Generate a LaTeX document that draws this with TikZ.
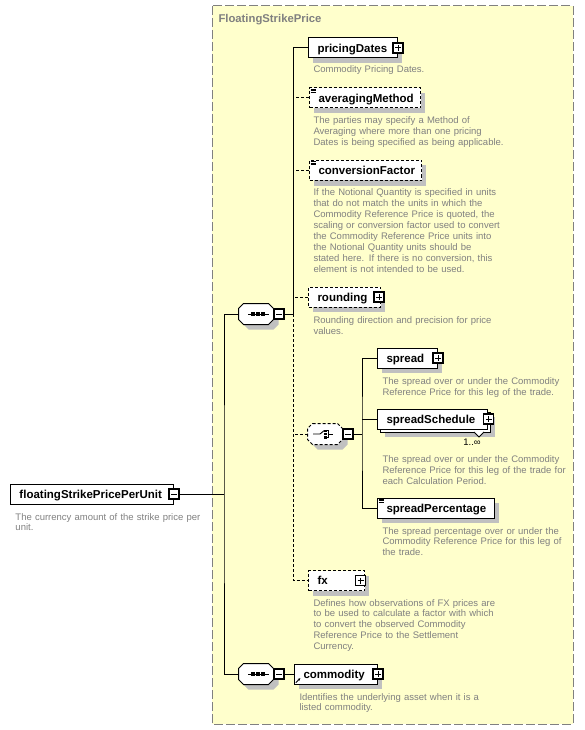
\documentclass[tikz,border=0pt]{standalone}
\usepackage{fontspec}
\setmainfont{Liberation Sans}
\usetikzlibrary{arrows.meta}
\definecolor{notebg}{HTML}{FFFFCC}
\definecolor{notegray}{HTML}{808080}
\definecolor{shadowgray}{HTML}{C0C0C0}
\newcommand{\compositorshape}[2][]{%
  \path[draw,fill=white,boxshadow,#1] ([xshift=5pt]#2.north west) -- ([xshift=-5pt]#2.north east)
    -- ([yshift=-5pt]#2.north east) -- ([yshift=5pt]#2.south east) -- ([xshift=-5pt]#2.south east)
    -- ([xshift=5pt]#2.south west) -- ([yshift=5pt]#2.south west) -- ([yshift=-5pt]#2.north west) -- cycle;}

\begin{document}
\begin{tikzpicture}[x=1pt,y=-1pt,line width=1pt,
   boxshadow/.style={preaction={fill=shadowgray,draw=none,transform canvas={shift={(5pt,-5pt)}}}},
   element/.style={draw,fill=white,anchor=west,text width=#1,align=left,minimum height=20pt,
      inner xsep=9pt,inner ysep=0pt,text height=8.6pt,text depth=0pt,font=\fontsize{11.5}{13}\selectfont\bfseries},
   optional/.style={dash pattern=on 3pt off 2pt},
   descr/.style={anchor=base west,inner sep=0pt,text width=220pt,align=left,text=notegray,
      font=\fontsize{9.5}{10.9}\selectfont},
   togglebox/.style={draw,fill=white,minimum size=10pt,inner sep=0pt,line width=1.2pt},
   expandbox/.style={togglebox,path picture={
      \draw[line width=1pt] ([yshift=-2pt]path picture bounding box.north) -- ([yshift=2pt]path picture bounding box.south);
      \draw[line width=1pt] ([xshift=2pt]path picture bounding box.west) -- ([xshift=-2pt]path picture bounding box.east);}},
   collapsebox/.style={togglebox,path picture={
      \draw[line width=1pt] ([xshift=2pt]path picture bounding box.west) -- ([xshift=-2pt]path picture bounding box.east);}},
   compositor/.style={minimum width=34pt,minimum height=20pt,inner sep=0pt},
   simpletype/.style={line width=0.6pt}]
\useasboundingbox (0,0) rectangle (584,730);
\draw[notegray,fill=notebg,dash pattern=on 9pt off 3pt] (212,6) rectangle (573,724);
\node[anchor=base west,inner sep=0pt,text=notegray,font=\fontsize{11.3}{13}\selectfont\bfseries] (title) at (218,23) {FloatingStrikePrice};
\foreach \x/\y/\w in {308/48/89,309/98/111,309/170.5/112,308/297/72,377/358/60,380/422/110,377/508/117,308/580.5/56,294/674/83}
  \fill[shadowgray] (\x+5,\y-5) rectangle (\x+5+\w,\y+15);

\node[element=145pt] (unit) at (10,494) {floatingStrikePricePerUnit};
\node[collapsebox] (unit-m) at (unit.east) {};
\node[descr] (unit-d) at (15,520) {The currency amount of the strike price per\\unit.};

\node[compositor] (seq) at (256,314) {};
\compositorshape{seq}
\node[collapsebox] (seq-m) at (279,314) {};
\draw (seq.center) +(-8,0) -- +(13,0);
\foreach \d in {-3,2,7} \fill ([xshift=\d pt]seq.center) +(-1.6,-1.6) rectangle +(1.6,1.6);

\node[compositor] (seq2) at (256,674) {};
\compositorshape{seq2}
\node[collapsebox] (seq2-m) at (279,674) {};
\draw (seq2.center) +(-8,0) -- +(13,0);
\foreach \d in {-3,2,7} \fill ([xshift=\d pt]seq2.center) +(-1.6,-1.6) rectangle +(1.6,1.6);

\node[element=71pt] (pricingDates) at (308,48) {pricingDates};
\node[expandbox] (pricingDates-p) at (pricingDates.east) {};
\node[descr] (pricingDates-d) at (313,73) {Commodity Pricing Dates.};

\node[element=93pt,optional] (averagingMethod) at (309,98) {averagingMethod};
\foreach \k in {0,1.4,2.8} \draw[simpletype] ([xshift=1.5pt,yshift=-1.6pt-\k pt]averagingMethod.north west) -- ++(5,0);
\node[descr] (averagingMethod-d) at (313,123.3) {The parties may specify a Method of\\Averaging where more than one pricing\\Dates is being specified as being applicable.};

\node[element=94pt,optional] (conversionFactor) at (309,170.5) {conversionFactor};
\foreach \k in {0,1.4,2.8} \draw[simpletype] ([xshift=1.5pt,yshift=-1.6pt-\k pt]conversionFactor.north west) -- ++(5,0);
\node[descr] (conversionFactor-d) at (313,196) {If the Notional Quantity is specified in units\\that do not match the units in which the\\Commodity Reference Price is quoted, the\\scaling or conversion factor used to convert\\the Commodity Reference Price units into\\the Notional Quantity units should be\\stated here. If there is no conversion, this\\element is not intended to be used.};

\node[element=54pt,optional] (rounding) at (308,297) {rounding};
\node[expandbox] (rounding-p) at ([xshift=-2pt]rounding.east) {};
\node[descr] (rounding-d) at (313,323.3) {Rounding direction and precision for price\\values.};

\node[compositor] (choice) at (325,434) {};
\compositorshape[optional]{choice}
\node[collapsebox] (choice-m) at (348,434) {};
\begin{scope}[shift={(choice.center)},line width=0.9pt]
\draw (-12,0) -- (-5,0) -- (-1,-3.3);
\foreach \dy in {-3.3,0,3.3} \fill (0.4,\dy) +(-1.2,-1.2) rectangle +(1.2,1.2);
\draw (1.5,-3.3) -- (3.4,-3.3) -- (3.4,3.3) -- (1.5,3.3);
\draw (3.4,0) -- (7.7,0);
\end{scope}

\node[element=42pt] (spread) at (377,358) {spread};
\node[expandbox] (spread-p) at (spread.east) {};
\node[descr] (spread-d) at (382,384.3) {The spread over or under the Commodity\\Reference Price for this leg of the trade.};

\node[element=92pt] (spreadSchedule-b) at (380,422) {};
\draw[fill=white,line width=0.8pt] (474,432) -- (479,437) -- (484,432);
\node[element=92pt] (spreadSchedule) at (377,419) {spreadSchedule};
\node[expandbox] (spreadSchedule-p) at ([xshift=0.5pt]spreadSchedule.east) {};
\node[anchor=base,inner sep=0pt,font=\fontsize{9.5}{11}\selectfont] (spreadSchedule-n) at (472,445) {1..∞};
\node[descr] (spreadSchedule-d) at (382,462.3) {The spread over or under the Commodity\\Reference Price for this leg of the trade for\\each Calculation Period.};

\node[element=99pt] (spreadPercentage) at (377,508) {spreadPercentage};
\foreach \k in {0,1.4,2.8} \draw[simpletype] ([xshift=1.5pt,yshift=-1.6pt-\k pt]spreadPercentage.north west) -- ++(5,0);
\node[descr] (spreadPercentage-d) at (382,534) {The spread percentage over or under the\\Commodity Reference Price for this leg of\\the trade.};

\node[element=38pt,optional] (fx) at (308,580.5) {fx};
\node[expandbox] (fx-p) at ([xshift=-4.5pt]fx.east) {};
\node[descr] (fx-d) at (313,606) {Defines how observations of FX prices are\\to be used to calculate a factor with which\\to convert the observed Commodity\\Reference Price to the Settlement\\Currency.};

\node[element=65pt] (commodity) at (294,674) {commodity};
\node[expandbox] (commodity-p) at (commodity.east) {};
\draw[-{Stealth[length=2.6pt,width=2.6pt]},line width=0.9pt] ([xshift=1.8pt,yshift=1.8pt]commodity.south west) -- ++(4.5,-4.5);
\node[descr] (commodity-d) at (299,700) {Identifies the underlying asset when it is a\\listed commodity.};

\coordinate (spine) at (224,494);
\draw (unit-m.east) -- (spine);
\draw (seq.west) -| (spine) |- (seq2.west);
\coordinate (hub) at (293,314);
\draw (seq-m.east) -- (hub) |- (pricingDates.west);
\draw[optional] (hub) |- (fx.west);
\draw[optional] (averagingMethod.west) -- (averagingMethod.west -| hub);
\draw[optional] (conversionFactor.west) -- (conversionFactor.west -| hub);
\draw[optional] (rounding.west) -- (rounding.west -| hub);
\draw[optional] (choice.west) -- (choice.west -| hub);
\coordinate (fork) at (362,434);
\draw (choice-m.east) -- (fork);
\draw (spread.west) -| (fork) |- (spreadPercentage.west);
\draw (spreadSchedule.west) -- (spreadSchedule.west -| fork);
\draw (seq2-m.east) -- (commodity.west);
\end{tikzpicture}
\end{document}
